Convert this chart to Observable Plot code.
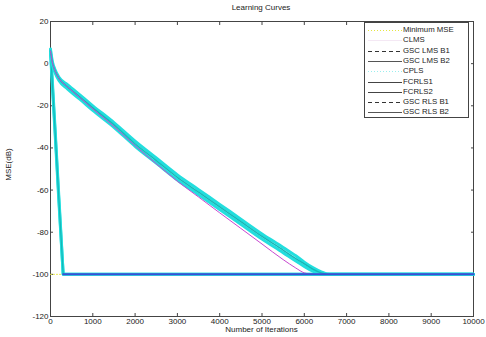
<!DOCTYPE html>
<html>
<head>
<meta charset="utf-8">
<script src="https://cdn.jsdelivr.net/npm/d3@7"></script>
<script src="https://cdn.jsdelivr.net/npm/@observablehq/plot@0.6"></script>
<style>
  body { margin: 0; background: #fff; font-family: "Liberation Sans", Arial, sans-serif; }
  #wrap { position: relative; width: 486px; height: 337px; overflow: hidden; }
  .lbl { position: absolute; font-size: 8px; color: #222; white-space: nowrap; }
  #legend { position: absolute; left: 364px; top: 22px; width: 105px; height: 96px;
            border: 1px solid #444; background: #fff; box-sizing: border-box; }
  .row { position: absolute; left: 0; height: 10px; width: 104px; }
  .row svg { position: absolute; left: 2px; top: 0; }
  .row span { position: absolute; left: 38px; top: 0; font-size: 7.8px; line-height: 10px; color: #222; }
</style>
</head>
<body>
<div id="wrap"></div>
<script>
// ---- data ----
const slowIter = [0, 50, 100, 200, 400, 700, 1000, 1500, 2000, 2500, 3000, 3500, 4000, 4500, 5000, 5500, 5800, 6000, 6200, 6400, 6600, 7000, 8000, 9000, 10000];
const gscLmsB2 = [6, 0, -3, -7, -11, -16, -21, -29, -38, -46, -54, -61, -68, -75, -82, -88.5, -92.5, -95, -97.5, -99.3, -100, -100, -100, -100, -100];
const gscLmsB1 = [5, -1, -4, -8, -12, -17, -22.2, -30.2, -39.2, -47.2, -55.2, -62.2, -69.2, -76.2, -83.2, -89.7, -93.7, -96.2, -98.5, -99.8, -100, -100, -100, -100, -100];
const cpls     = [6.5, 0.5, -2.5, -6.5, -10, -15, -20, -28, -36.8, -44.8, -52.8, -59.8, -66.8, -73.8, -80.8, -87.2, -91.2, -94.2, -96.8, -98.8, -100, -100, -100, -100, -100];
const clms     = [6, 0, -3, -7, -11, -16.2, -21.5, -29.8, -39, -47.5, -55.8, -63.3, -70.8, -78.2, -85.6, -93, -97, -99.3, -100, -100, -100, -100, -100, -100, -100];

const fastIter = [0, 100, 200, 300, 400, 1000, 10000];
const fcrls1   = [7, -28, -64, -100, -100, -100, -100];
const fcrls2   = [6, -29, -65, -100, -100, -100, -100];
const gscRlsB1 = [5, -30, -66, -100, -100, -100, -100];
const gscRlsB2 = [6, -29, -65, -100, -100, -100, -100];

const minIter = [0, 10000];
const minMse  = [-100, -100];

const xTicks = [0, 1000, 2000, 3000, 4000, 5000, 6000, 7000, 8000, 9000, 10000];
const yTicks = [20, 0, -20, -40, -60, -80, -100, -120];

const legendNames = ["Minimum MSE", "CLMS", "GSC LMS B1", "GSC LMS B2", "CPLS", "FCRLS1", "FCRLS2", "GSC RLS B1", "GSC RLS B2"];

// ---- tables ----
const toRows = (xs, ys) => xs.map((x, i) => ({iter: x, mse: ys[i]}));

const cyan = "#22dede", teal = "#14b8b8", blue = "#3a4fd6", magenta = "#c848d0", yellow = "#e6e640";

const plot = Plot.plot({
  width: 486,
  height: 337,
  marginLeft: 50,
  marginRight: 13,
  marginTop: 21,
  marginBottom: 21,
  style: {fontFamily: "Liberation Sans, Arial, sans-serif", fontSize: "8px", background: "transparent"},
  x: {domain: [0, 10000]},
  y: {domain: [-120, 20]},
  marks: [
    Plot.frame({stroke: "#444"}),
    Plot.axisX({ticks: xTicks, tickSize: -3, tickPadding: 5, label: null, tickFormat: d => String(d), stroke: "#444", color: "#222"}),
    Plot.axisX({anchor: "top", ticks: xTicks, tickSize: -3, label: null, tickFormat: () => "", stroke: "#444"}),
    Plot.axisY({ticks: yTicks, tickSize: -3, tickPadding: 5, label: null, tickFormat: d => String(d), stroke: "#444", color: "#222"}),
    Plot.axisY({anchor: "right", ticks: yTicks, tickSize: -3, label: null, tickFormat: () => "", stroke: "#444"}),
    Plot.line(toRows(minIter, minMse), {x: "iter", y: "mse", stroke: yellow, strokeWidth: 1, strokeDasharray: "1,2"}),
    Plot.line(toRows(fastIter, fcrls1), {x: "iter", y: "mse", stroke: cyan, strokeWidth: 3}),
    Plot.line(toRows(fastIter, gscRlsB1), {x: "iter", y: "mse", stroke: cyan, strokeWidth: 3}),
    Plot.line(toRows(fastIter, fcrls2), {x: "iter", y: "mse", stroke: teal, strokeWidth: 1.2}),
    Plot.line(toRows(slowIter, cpls), {x: "iter", y: "mse", stroke: cyan, strokeWidth: 3, curve: "monotone-x"}),
    Plot.line(toRows(slowIter, gscLmsB1), {x: "iter", y: "mse", stroke: cyan, strokeWidth: 3, curve: "monotone-x"}),
    Plot.line(toRows(slowIter, gscLmsB2), {x: "iter", y: "mse", stroke: teal, strokeWidth: 1.5, curve: "monotone-x"}),
    Plot.line(toRows(slowIter, clms), {x: "iter", y: "mse", stroke: magenta, strokeWidth: 1, curve: "monotone-x"}),
    Plot.line(toRows(fastIter, gscRlsB2), {x: "iter", y: "mse", stroke: blue, strokeWidth: 2, filter: d => d.iter >= 300})
  ]
});

const wrap = document.getElementById("wrap");
wrap.appendChild(plot);

function addLabel(text, css) {
  const d = document.createElement("div");
  d.className = "lbl";
  d.textContent = text;
  Object.assign(d.style, css);
  wrap.appendChild(d);
}
addLabel("Learning Curves", {left: "0", width: "522px", textAlign: "center", top: "3px", fontSize: "8px"});
addLabel("Number of Iterations", {left: "50px", width: "423px", textAlign: "center", top: "325px", fontSize: "8px"});
addLabel("MSE(dB)", {left: "-14px", top: "160px", width: "44px", textAlign: "center", transform: "rotate(-90deg)", fontSize: "8px"});

// ---- legend ----
const legendStyles = [
  {stroke: yellow, dash: "1,2", width: 1},
  {stroke: "#f4e8f4", dash: null, width: 1},
  {stroke: "#333", dash: "4,3", width: 1},
  {stroke: "#555", dash: null, width: 1},
  {stroke: "#9ee", dash: "1,2", width: 1},
  {stroke: "#444", dash: null, width: 1},
  {stroke: "#444", dash: null, width: 1},
  {stroke: "#333", dash: "4,3", width: 1},
  {stroke: "#555", dash: null, width: 1}
];
const leg = document.createElement("div");
leg.id = "legend";
legendNames.forEach((name, i) => {
  const r = document.createElement("div");
  r.className = "row";
  r.style.top = (2 + i * 10.3) + "px";
  const s = legendStyles[i];
  r.innerHTML = `<svg width="36" height="10"><line x1="1" x2="35" y1="5.5" y2="5.5" stroke="${s.stroke}" stroke-width="${s.width}" ${s.dash ? `stroke-dasharray="${s.dash}"` : ""}/></svg><span>${name}</span>`;
  leg.appendChild(r);
});
wrap.appendChild(leg);
</script>
</body>
</html>
